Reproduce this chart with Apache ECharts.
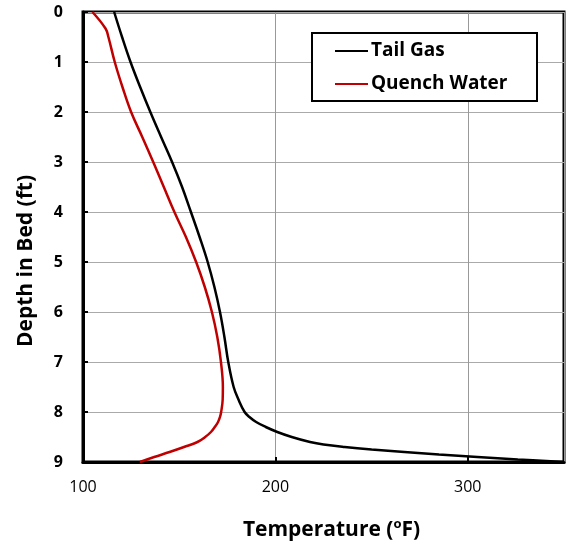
<!DOCTYPE html>
<html>
<head>
<meta charset="utf-8">
<script src="https://cdn.jsdelivr.net/npm/echarts@6/dist/echarts.min.js"></script>
<style>
  html, body { margin: 0; padding: 0; background: #fff; }
  #chartLineBox { width: 567px; height: 546px; }
</style>
</head>
<body>
<div id="chartLineBox"></div>
<script>
// 读图得到的数据
var tailGasDepth = [0, 0.5, 1, 1.5, 2, 2.5, 3, 3.5, 4, 4.5, 5, 5.5, 6, 6.5, 7, 7.5, 7.75, 8, 8.1, 8.2, 8.3, 8.4, 8.5, 8.6, 8.65, 8.7, 8.75, 8.8, 8.85, 8.9, 8.95, 9];
var tailGasTemp = [116.2, 120.3, 124.7, 129.7, 135, 140.6, 146.3, 151.5, 156.1, 160.6, 164.8, 168.3, 171.2, 173.5, 175.5, 178.3, 180.8, 184, 186.5, 190, 195, 201, 208.5, 218, 225, 236, 250, 267, 285, 305, 326, 350];
var waterDepth = [0, 0.33, 0.5, 1, 1.5, 2, 2.5, 3, 3.5, 4, 4.5, 5, 5.5, 6, 6.5, 7, 7.5, 7.75, 8, 8.1, 8.2, 8.3, 8.4, 8.5, 8.6, 8.7, 8.8, 8.9, 9];
var waterTemp = [104.9, 111.7, 113.2, 116.5, 120.5, 125, 130.8, 136.5, 142, 147.5, 153.5, 158.8, 163.3, 167, 169.8, 171.7, 172.7, 172.6, 171.8, 171.2, 170.2, 168.5, 166.5, 163.5, 159.5, 152.5, 145, 137, 129.6];
var seriesNames = ["Tail Gas", "Quench Water"];
var xTicks = { min: 100, max: 350, interval: 100 };
var yTicks = { min: 0, max: 9, interval: 1 };

function pairs(temp, depth) {
  var out = [];
  for (var i = 0; i < temp.length; i++) {
    out.push([temp[i], depth[i]]);
  }
  return out;
}

var font = "'Open Sans', sans-serif";
var chartLine = echarts.init(document.getElementById("chartLineBox"));

var option = {
  animation: false,
  backgroundColor: "#fff",
  grid: {
    left: 83,
    right: 3,
    top: 12,
    bottom: 84,
    show: true,
    borderColor: "#000",
    borderWidth: 3
  },
  graphic: [
    {
      type: "rect",
      z: 3,
      shape: { x: 312, y: 33, width: 225, height: 68 },
      style: { fill: "#fff", stroke: "#000", lineWidth: 2 }
    }
  ],
  legend: {
    orient: "vertical",
    left: 335,
    top: 41,
    z: 5,
    icon: "rect",
    itemWidth: 33,
    itemHeight: 2,
    itemGap: 13,
    padding: 0,
    textStyle: {
      fontFamily: font,
      fontWeight: "bold",
      fontSize: 19,
      lineHeight: 20,
      color: "#000",
      padding: [0, 0, 0, -2]
    },
    data: seriesNames
  },
  xAxis: {
    type: "value",
    min: xTicks.min,
    max: xTicks.max,
    interval: xTicks.interval,
    name: "Temperature ({sup|o}F)",
    nameLocation: "middle",
    nameGap: 56,
    nameTextStyle: {
      fontFamily: font,
      fontWeight: "bold",
      fontSize: 21,
      color: "#000",
      padding: [0, 0, 0, 16],
      rich: {
        sup: {
          fontFamily: font,
          fontWeight: "bold",
          fontSize: 13,
          verticalAlign: "top",
          padding: [0, 0, 12, 0],
          color: "#000"
        }
      }
    },
    axisLine: { onZero: false, lineStyle: { color: "#000", width: 3 } },
    axisTick: { inside: true, length: 5, lineStyle: { color: "#000", width: 2 } },
    axisLabel: {
      showMaxLabel: false,
      margin: 17,
      fontFamily: font,
      fontSize: 16,
      color: "#000"
    },
    splitLine: { lineStyle: { color: "#999", width: 1 } }
  },
  yAxis: {
    type: "value",
    inverse: true,
    min: yTicks.min,
    max: yTicks.max,
    interval: yTicks.interval,
    name: "Depth in Bed (ft)",
    nameLocation: "middle",
    nameGap: 46,
    nameTextStyle: {
      fontFamily: font,
      fontWeight: "bold",
      fontSize: 21,
      color: "#000",
      padding: [0, 48, 0, 0]
    },
    axisLine: { onZero: false, lineStyle: { color: "#000", width: 3 } },
    axisTick: { inside: true, length: 5, lineStyle: { color: "#000", width: 2 } },
    axisLabel: {
      margin: 20,
      fontFamily: font,
      fontWeight: "bold",
      fontSize: 16,
      color: "#000"
    },
    splitLine: { lineStyle: { color: "#aaa", width: 1 } }
  },
  series: [
    {
      name: seriesNames[0],
      type: "line",
      data: pairs(tailGasTemp, tailGasDepth),
      symbol: "none",
      smooth: 0.4,
      z: 2,
      itemStyle: { color: "#000" },
      lineStyle: { color: "#000", width: 2.5 }
    },
    {
      name: seriesNames[1],
      type: "line",
      data: pairs(waterTemp, waterDepth),
      symbol: "none",
      smooth: 0.4,
      z: 2,
      itemStyle: { color: "#c00000" },
      lineStyle: { color: "#c00000", width: 2.5 }
    }
  ]
};

chartLine.setOption(option);
</script>
</body>
</html>
